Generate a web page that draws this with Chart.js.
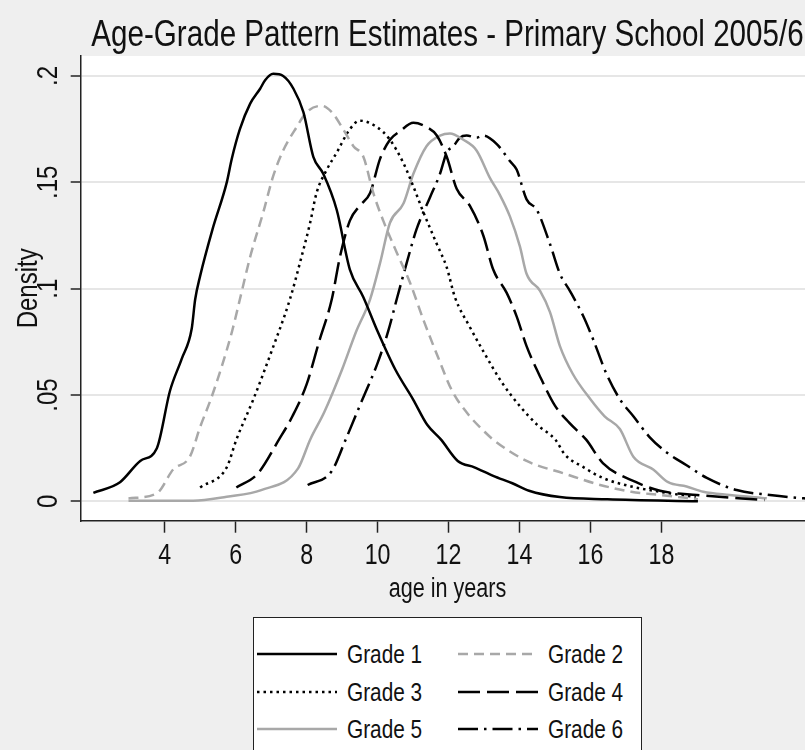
<!DOCTYPE html>
<html>
<head>
<meta charset="utf-8">
<script src="https://cdn.jsdelivr.net/npm/chart.js@4.4.1/dist/chart.umd.min.js"></script>
<style>
  html, body { margin: 0; padding: 0; background: #efefef; overflow: hidden; width: 805px; height: 750px; }
  #wrap { position: absolute; left: 0; top: 0; width: 830px; height: 750px; }
  #legend {
    position: absolute; left: 253px; top: 617px; width: 387px; height: 170px;
    border: 1px solid #222; background: #fff;
    font-family: 'Liberation Sans', Arial, sans-serif;
  }
  .item { position: absolute; height: 30px; display: flex; align-items: center; white-space: nowrap; }
  .item span { font-size: 26px; color: #111; margin-left: 10px; display: inline-block; transform: scaleX(0.8); transform-origin: left center; }
</style>
</head>
<body>
<div id="wrap"><canvas id="chart" width="830" height="750"></canvas></div>
<div id="legend"></div>
<script>
// ─── DATA ────────────────────────────────────────────
const gradeLabels = ['Grade 1', 'Grade 2', 'Grade 3', 'Grade 4', 'Grade 5', 'Grade 6'];

const g1Age  = [1.99, 2.74, 3.31, 3.78, 4.15, 4.48, 4.76, 4.86, 5.0, 5.35, 5.75, 5.89, 6.12, 6.41, 6.69, 6.83, 7.06, 7.34, 7.63, 7.91, 8.19, 8.47, 8.85, 9.22, 9.6, 10.0, 10.5, 11.0, 11.4, 11.79, 12.26, 12.73, 13.26, 13.8, 14.27, 15.14, 16.48, 19.03];
const g1Dens = [0.004, 0.009, 0.019, 0.025, 0.052, 0.067, 0.081, 0.095, 0.106, 0.128, 0.150, 0.161, 0.175, 0.187, 0.194, 0.198, 0.201, 0.200, 0.194, 0.183, 0.162, 0.154, 0.137, 0.109, 0.096, 0.080, 0.062, 0.048, 0.036, 0.029, 0.019, 0.016, 0.012, 0.0085, 0.005, 0.002, 0.001, 0.0];

const g2Age  = [2.98, 3.78, 4.24, 4.71, 5.0, 5.3, 5.6, 5.9, 6.12, 6.41, 6.78, 7.06, 7.34, 7.72, 8.0, 8.43, 8.71, 9.03, 9.32, 9.6, 9.88, 10.16, 10.54, 10.91, 11.3, 11.7, 12.1, 12.6, 13.0, 13.26, 14.2, 15.28, 16.21, 17.15, 17.96, 19.03];
const g2Dens = [0.0014, 0.0038, 0.015, 0.021, 0.035, 0.048, 0.063, 0.080, 0.095, 0.115, 0.136, 0.153, 0.165, 0.176, 0.183, 0.186, 0.183, 0.175, 0.167, 0.162, 0.145, 0.132, 0.117, 0.103, 0.085, 0.068, 0.052, 0.040, 0.033, 0.029, 0.019, 0.013, 0.008, 0.0045, 0.003, 0.001];

const g3Age  = [5.0, 5.75, 6.02, 6.5, 7.0, 7.53, 7.81, 8.1, 8.28, 8.57, 8.85, 9.22, 9.5, 9.98, 10.35, 10.73, 11.01, 11.29, 11.67, 11.95, 12.18, 12.6, 13.0, 13.5, 14.0, 14.5, 15.01, 15.28, 15.81, 16.35, 17.15, 17.96, 18.97];
const g3Dens = [0.0065, 0.016, 0.029, 0.048, 0.070, 0.095, 0.112, 0.131, 0.145, 0.156, 0.164, 0.175, 0.179, 0.176, 0.170, 0.159, 0.148, 0.136, 0.121, 0.110, 0.096, 0.082, 0.070, 0.056, 0.045, 0.036, 0.029, 0.022, 0.016, 0.011, 0.007, 0.0045, 0.002];

const g4Age  = [6.02, 6.62, 7.22, 7.6, 8.0, 8.35, 8.71, 8.94, 9.22, 9.5, 9.79, 10.07, 10.35, 10.63, 11.01, 11.38, 11.67, 11.95, 12.23, 12.6, 12.98, 13.26, 13.64, 13.92, 14.2, 14.6, 15.0, 15.4, 15.88, 16.35, 17.29, 17.96, 19.0, 20.91];
const g4Dens = [0.0065, 0.013, 0.029, 0.040, 0.055, 0.075, 0.095, 0.115, 0.132, 0.139, 0.145, 0.161, 0.170, 0.174, 0.178, 0.176, 0.172, 0.162, 0.147, 0.139, 0.125, 0.109, 0.098, 0.087, 0.073, 0.058, 0.045, 0.037, 0.029, 0.018, 0.009, 0.005, 0.003, 0.0006];

const g5Age  = [2.98, 4.8, 5.75, 6.72, 7.76, 8.1, 8.5, 9.0, 9.4, 9.79, 10.07, 10.35, 10.73, 11.01, 11.38, 11.76, 12.04, 12.42, 12.79, 13.17, 13.45, 13.73, 14.01, 14.2, 14.58, 14.86, 15.14, 15.5, 16.0, 16.4, 16.83, 17.21, 17.77, 18.19, 18.71, 19.18, 19.93, 20.97];
const g5Dens = [0.0003, 0.0003, 0.0022, 0.0053, 0.0155, 0.029, 0.042, 0.062, 0.080, 0.095, 0.112, 0.131, 0.140, 0.154, 0.167, 0.172, 0.173, 0.170, 0.165, 0.152, 0.144, 0.134, 0.120, 0.107, 0.099, 0.089, 0.073, 0.060, 0.048, 0.040, 0.034, 0.021, 0.015, 0.009, 0.007, 0.0045, 0.003, 0.0014];

const g6Age  = [8.03, 8.7, 9.1, 9.5, 10.0, 10.3, 10.54, 10.82, 11.1, 11.48, 11.76, 11.95, 12.14, 12.32, 12.51, 12.79, 12.98, 13.36, 13.73, 13.92, 14.2, 14.49, 14.86, 15.14, 15.42, 15.8, 16.08, 16.45, 16.83, 17.21, 17.68, 18.15, 18.71, 19.28, 20.12, 21.06, 22.0, 22.3];
const g6Dens = [0.0077, 0.014, 0.029, 0.045, 0.065, 0.080, 0.095, 0.112, 0.128, 0.143, 0.154, 0.164, 0.167, 0.171, 0.172, 0.171, 0.172, 0.168, 0.160, 0.156, 0.142, 0.137, 0.121, 0.107, 0.099, 0.087, 0.076, 0.060, 0.048, 0.040, 0.030, 0.023, 0.017, 0.011, 0.0053, 0.003, 0.0014, 0.0012];

const xTicks = [4, 6, 8, 10, 12, 14, 16, 18];
const yTicks = [0, 0.05, 0.1, 0.15, 0.2];
const yTickLabels = ['0', '.05', '.1', '.15', '.2'];

// ─── STYLE ───────────────────────────────────────────
const FONT = "'Liberation Sans', Arial, sans-serif";
const NARROW = 0.8; // squeeze text to look like the narrow Stata font
const lineColors = ['#000000', '#a8a8a8', '#000000', '#000000', '#a8a8a8', '#000000'];
const lineDashes = [[], [10, 6], [2.5, 4], [22, 7], [], [20, 6, 2.5, 6]];

const series = [[g1Age, g1Dens], [g2Age, g2Dens], [g3Age, g3Dens], [g4Age, g4Dens], [g5Age, g5Dens], [g6Age, g6Dens]];

const datasets = series.map(([ages, dens], i) => ({
  label: gradeLabels[i],
  data: ages.map((a, k) => ({ x: a, y: dens[k] })),
  borderColor: lineColors[i],
  borderDash: lineDashes[i],
  borderWidth: 2.5,
  pointRadius: 0,
  fill: false,
  cubicInterpolationMode: 'monotone'
}));

// white plot region
const plotBg = {
  id: 'plotBg',
  beforeDraw(chart) {
    const { ctx, chartArea: a } = chart;
    ctx.save();
    ctx.fillStyle = '#ffffff';
    ctx.fillRect(a.left, a.top, a.right - a.left, a.bottom - a.top);
    ctx.restore();
  }
};

const ctx = document.getElementById('chart').getContext('2d');
const rawFillText = ctx.fillText.bind(ctx);
ctx.fillText = function (text, x, y, maxWidth) {
  const w = this.measureText(text).width * NARROW;
  return rawFillText(text, x, y, maxWidth === undefined ? w : Math.min(maxWidth, w));
};

const chart = new Chart(ctx, {
  type: 'line',
  data: { datasets },
  plugins: [plotBg],
  options: {
    responsive: false,
    animation: false,
    layout: { padding: { left: 0, right: 15.7, top: 0, bottom: 143.8 } },
    plugins: {
      legend: { display: false },
      tooltip: { enabled: false },
      title: {
        display: true,
        text: 'Age-Grade Pattern Estimates - Primary School 2005/6',
        fullSize: false,
        color: '#111',
        font: { family: FONT, size: 37, weight: 'normal', lineHeight: 1 },
        padding: { top: 17, bottom: 2 }
      }
    },
    scales: {
      x: {
        type: 'linear',
        min: 1.633,
        max: 22.31,
        afterBuildTicks: s => { s.ticks = xTicks.map(v => ({ value: v })); },
        afterFit: s => { s.height = 85.5; },
        grid: { drawOnChartArea: false, tickLength: 12, tickColor: '#222', tickWidth: 1.5 },
        border: { color: '#222', width: 1.5 },
        ticks: { font: { family: FONT, size: 29 }, color: '#111', padding: 6, maxRotation: 0, autoSkip: false },
        title: { display: true, text: 'age in years', color: '#111', font: { family: FONT, size: 27, lineHeight: 1.2 }, padding: { top: 0, bottom: 0 } }
      },
      y: {
        min: -0.0091,
        max: 0.2094,
        afterBuildTicks: s => { s.ticks = yTicks.map(v => ({ value: v })); },
        afterFit: s => { s.width = 80.7; },
        grid: { color: '#e6e6e6', lineWidth: 2, tickColor: '#222', tickLength: 10, tickWidth: 1.5 },
        border: { color: '#222', width: 1.5 },
        ticks: {
          font: { family: FONT, size: 30 }, color: '#111',
          minRotation: 90, maxRotation: 90, crossAlign: 'center', padding: 1,
          callback: v => yTickLabels[yTicks.indexOf(v)]
        },
        title: { display: true, text: 'Density', color: '#111', font: { family: FONT, size: 30, lineHeight: 1.2 }, padding: { top: 11, bottom: 0 } }
      }
    }
  }
});

// ─── LEGEND (html, from the dataset styles) ──────────
const legendEl = document.getElementById('legend');
const colLeft = [3, 204];
const rowMid = [36, 74, 111];
gradeLabels.forEach((lab, i) => {
  const item = document.createElement('div');
  item.className = 'item';
  item.style.left = colLeft[i % 2] + 'px';
  item.style.top = (rowMid[Math.floor(i / 2)] - 15) + 'px';
  const dash = lineDashes[i].length ? `stroke-dasharray="${lineDashes[i].join(' ')}"` : '';
  item.innerHTML = `<svg width="80" height="6"><line x1="0" y1="3" x2="80" y2="3" stroke="${lineColors[i]}" stroke-width="2.5" ${dash}/></svg><span>${lab}</span>`;
  legendEl.appendChild(item);
});
</script>
</body>
</html>
